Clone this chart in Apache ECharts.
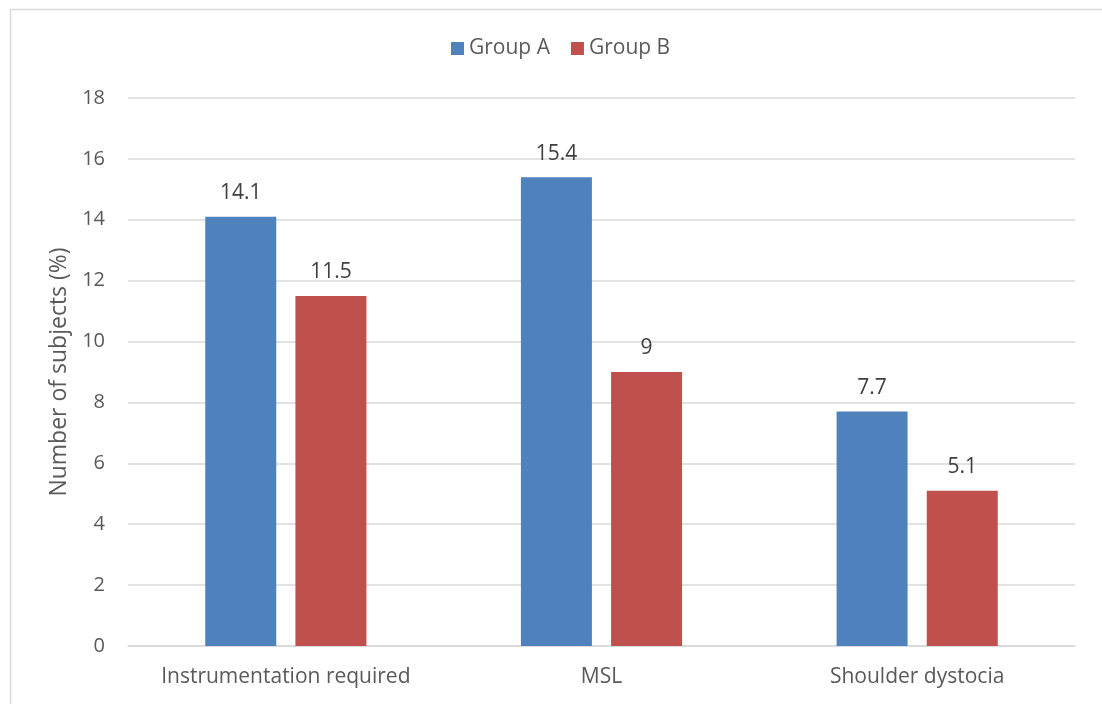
<!DOCTYPE html>
<html>
<head>
<meta charset="utf-8">
<script src="https://cdn.jsdelivr.net/npm/echarts@6/dist/echarts.min.js"></script>
<style>
  html, body { margin: 0; padding: 0; background: #fff; }
  #chart { width: 1102px; height: 704px; }
</style>
</head>
<body>
<div id="chart"></div>
<script>
// Outcome categories and percentage of subjects per group
const categories = ['Instrumentation required', 'MSL', 'Shoulder dystocia'];
const groupA = [14.1, 15.4, 7.7];
const groupB = [11.5, 9, 5.1];
const seriesNames = ['Group A', 'Group B'];

const FONT = '"Open Sans", "Liberation Sans", sans-serif';
const TEXT = '#595959';

const chart = echarts.init(document.getElementById('chart'), null, { renderer: 'canvas' });

const labelStyle = {
  show: true,
  position: 'top',
  distance: 13,
  color: '#404040',
  fontSize: 21,
  fontFamily: FONT
};

chart.setOption({
  animation: false,
  backgroundColor: '#fff',
  graphic: [{
    type: 'rect',
    left: 8, top: 7,
    shape: { width: 1110, height: 710 },
    style: { fill: 'none', stroke: '#d9d9d9', lineWidth: 1.5 },
    silent: true
  }],
  legend: {
    top: 33,
    left: 446,
    itemWidth: 13,
    itemHeight: 13,
    itemGap: 21,
    icon: 'rect',
    textStyle: { color: TEXT, fontSize: 21, fontFamily: FONT },
    data: seriesNames
  },
  grid: { left: 128, right: 27, top: 98, bottom: 58 },
  xAxis: {
    type: 'category',
    data: categories,
    axisLine: { lineStyle: { color: '#d9d9d9', width: 1.5 } },
    axisTick: { show: false },
    axisLabel: { color: TEXT, fontSize: 21, fontFamily: FONT, margin: 21, interval: 0 }
  },
  yAxis: {
    type: 'value',
    min: 0, max: 18, interval: 2,
    name: 'Number of subjects (%)',
    nameLocation: 'middle',
    nameGap: 52,
    nameTextStyle: { color: TEXT, fontSize: 23, fontFamily: FONT },
    axisLine: { show: false },
    axisTick: { show: false },
    axisLabel: { color: TEXT, fontSize: 20, fontFamily: FONT, margin: 23 },
    splitLine: { lineStyle: { color: '#d9d9d9', width: 1.5 } }
  },
  series: [
    {
      name: seriesNames[0], type: 'bar', data: groupA,
      barWidth: 71, barGap: '27%',
      itemStyle: { color: '#4F81BD' },
      label: labelStyle
    },
    {
      name: seriesNames[1], type: 'bar', data: groupB,
      barWidth: 71,
      itemStyle: { color: '#C0504D' },
      label: labelStyle
    }
  ]
});
</script>
</body>
</html>
